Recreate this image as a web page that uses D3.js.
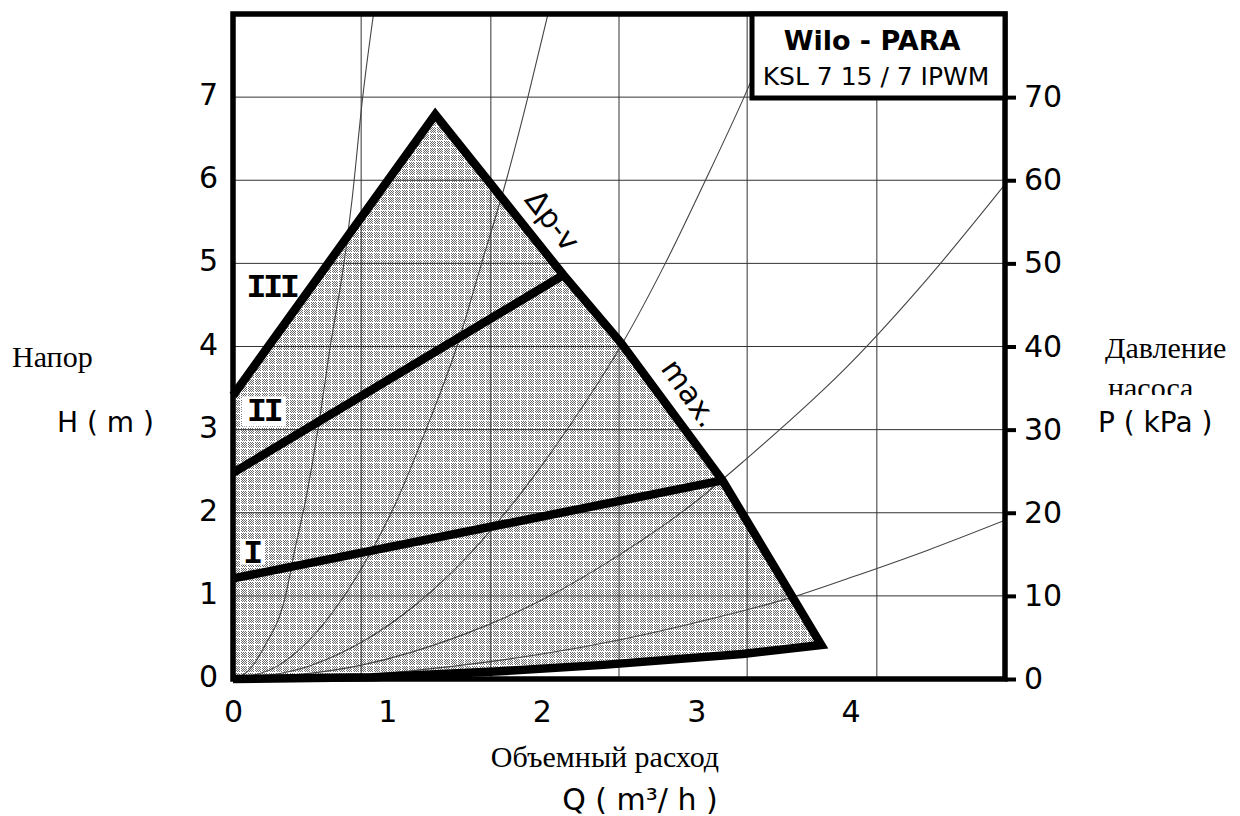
<!DOCTYPE html>
<html>
<head>
<meta charset="utf-8">
<script src="https://cdn.jsdelivr.net/npm/d3@7"></script>
<style>
body{margin:0;background:#fff;}
svg{display:block;}
.cs{font-family:"DejaVu Sans",sans-serif;fill:#000;}
.rus{font-family:"Liberation Serif",serif;fill:#000;}
.roman{font-family:"Liberation Mono",monospace;font-weight:bold;fill:#000;}
</style>
</head>
<body>
<svg id="svg1" width="1240" height="816"></svg>
<script>
// axis values
let qTicks = [0, 1, 2, 3, 4];
let hTicks = [0, 1, 2, 3, 4, 5, 6, 7];
let pTicks = [0, 10, 20, 30, 40, 50, 60, 70];
let gridQ = [0.83, 1.67, 2.5, 3.33, 4.17];
let gridH = [1, 2, 3, 4, 5, 6, 7];

// working field of the pump, [Q, H]
let fieldTop = [[0, 3.41], [1.31, 6.79], [2.14, 4.86], [2.51, 4.05], [3.17, 2.39], [3.81, 0.41]];
let fieldBottom = [[3.81, 0.41], [3.3, 0.3], [2.4, 0.17], [1.7, 0.09], [0.9, 0.02], [0, 0]];
let speedI = [[0, 1.21], [3.17, 2.39]];
let speedII = [[0, 2.48], [2.14, 4.86]];

// system curves (thin lines from the origin)
let curveA = [[0,0],[0.1,0.1],[0.2,0.38],[0.34,1.0],[0.4,1.55],[0.47,2.15],[0.55,3.0],[0.63,4.0],[0.73,5.15],[0.77,5.75],[0.84,7.0],[0.91,8.0]];
let curveB = [[0,0],[0.3,0.17],[0.5,0.48],[0.86,1.42],[1.05,2.1],[1.25,3.0],[1.45,4.0],[1.61,5.0],[1.77,6.0],[1.91,7.0],[2.04,8.0]];
let curveC = [[0,0],[0.5,0.16],[0.84,0.45],[1.2,0.92],[1.5,1.44],[1.94,2.42],[2.2,3.1],[2.51,4.0],[2.8,5.0],[3.06,6.0],[3.31,7.0],[3.54,8.0]];
let curveD = [[0,0],[0.84,0.17],[1.5,0.54],[2.0,0.95],[2.5,1.49],[3.0,2.14],[3.32,2.64],[4.0,3.8],[4.5,4.82],[5.0,5.95]];
let curveE = [[0,0],[0.84,0.05],[1.5,0.17],[2.0,0.3],[2.5,0.47],[3.0,0.68],[3.65,1.0],[4.0,1.22],[4.5,1.55],[5.0,1.91]];
let systemCurves = [curveA, curveB, curveC, curveD, curveE];

function drawChart(){
  let svg = d3.select("#svg1");
  let margin = {top: 14, right: 235, bottom: 137, left: 233};
  let width = 1240 - margin.left - margin.right;
  let height = 816 - margin.top - margin.bottom;

  let x = d3.scaleLinear().domain([0, 5]).range([0, width]);
  let y = d3.scaleLinear().domain([0, 8]).range([height, 0]);
  let yP = d3.scaleLinear().domain([0, 80]).range([height, 0]);

  svg.append("rect").attr("width", 1240).attr("height", 816).attr("fill", "#fff");

  // dotted raster used for the field
  let defs = svg.append("defs");
  let pat = defs.append("pattern").attr("id", "dots")
      .attr("patternUnits", "userSpaceOnUse").attr("width", 7).attr("height", 7);
  pat.append("rect").attr("width", 7).attr("height", 7).attr("fill", "#fff");
  for (let i = 1; i < 7; i++) {
    for (let j = 1; j < 7; j++) {
      if ((i + j) % 2 == 0) {
        pat.append("rect").attr("x", i).attr("y", j).attr("width", 1).attr("height", 1)
           .attr("fill", "#6a6a6a").attr("shape-rendering", "crispEdges");
      }
    }
  }
  defs.append("clipPath").attr("id", "plotClip")
      .append("rect").attr("width", width).attr("height", height);
  defs.append("clipPath").attr("id", "cutText")
      .append("rect").attr("x", 1090).attr("y", 370).attr("width", 150).attr("height", 25);

  let g = svg.append("g").attr("transform", `translate(${margin.left},${margin.top})`);

  let line = d3.line().x(d => x(d[0])).y(d => y(d[1]));

  // shaded field
  g.append("path")
    .attr("d", line(fieldTop.concat(fieldBottom)) + "Z")
    .attr("fill", "url(#dots)");

  // grid
  g.append("g").selectAll("line").data(gridQ).enter().append("line")
    .attr("x1", d => x(d)).attr("x2", d => x(d))
    .attr("y1", 0).attr("y2", height)
    .attr("stroke", "#333").attr("stroke-width", 1);
  g.append("g").selectAll("line").data(gridH).enter().append("line")
    .attr("x1", 0).attr("x2", width)
    .attr("y1", d => y(d)).attr("y2", d => y(d))
    .attr("stroke", "#333").attr("stroke-width", 1);

  // system curves
  let smooth = d3.line().x(d => x(d[0])).y(d => y(d[1])).curve(d3.curveMonotoneX);
  g.append("g").attr("clip-path", "url(#plotClip)")
    .selectAll("path").data(systemCurves).enter().append("path")
    .attr("d", d => smooth(d))
    .attr("fill", "none").attr("stroke", "#444").attr("stroke-width", 1.1);

  // thick outline of the field and speed lines
  g.append("path")
    .attr("d", line(fieldTop.concat(fieldBottom.slice(1))))
    .attr("fill", "none").attr("stroke", "#000").attr("stroke-width", 8.5)
    .attr("stroke-linejoin", "miter").attr("stroke-miterlimit", 10);
  [speedI, speedII].forEach(s => {
    g.append("path").attr("d", line(s))
      .attr("fill", "none").attr("stroke", "#000").attr("stroke-width", 8.5);
  });

  // speed labels
  g.append("text").attr("class", "roman")
    .attr("x", x(0.25)).attr("y", y(4.6))
    .attr("text-anchor", "middle")
    .style("font-size", "33px").style("letter-spacing", "-3px")
    .text("III");
  g.append("rect").attr("x", x(0.2) - 22).attr("y", y(3.22) - 15)
    .attr("width", 44).attr("height", 30).attr("fill", "#fff");
  g.append("text").attr("class", "roman")
    .attr("x", x(0.2)).attr("y", y(3.1))
    .attr("text-anchor", "middle")
    .style("font-size", "33px").style("letter-spacing", "-3px")
    .text("II");
  g.append("rect").attr("x", x(0.13) - 12).attr("y", y(1.52) - 13)
    .attr("width", 24).attr("height", 25).attr("fill", "#fff");
  g.append("text").attr("class", "roman")
    .attr("x", x(0.13)).attr("y", y(1.4))
    .attr("text-anchor", "middle")
    .style("font-size", "33px")
    .text("I");

  // curve names along the edge
  g.append("text").attr("class", "cs")
    .attr("transform", `translate(${x(2.07)},${y(5.52)}) rotate(52)`)
    .attr("text-anchor", "middle").attr("dominant-baseline", "central")
    .style("font-size", "30px").text("\u0394p-v");
  g.append("text").attr("class", "cs")
    .attr("transform", `translate(${x(2.96)},${y(3.44)}) rotate(55)`)
    .attr("text-anchor", "middle").attr("dominant-baseline", "central")
    .style("font-size", "30px").text("max.");

  // title box
  svg.append("rect").attr("x", 752).attr("y", 14).attr("width", 253).attr("height", 84)
    .attr("fill", "#fff").attr("stroke", "#000").attr("stroke-width", 5);
  svg.append("text").attr("class", "cs").attr("x", 872).attr("y", 50)
    .attr("text-anchor", "middle").style("font-size", "27px").style("font-weight", "bold")
    .text("Wilo - PARA");
  svg.append("text").attr("class", "cs").attr("x", 876).attr("y", 85)
    .attr("text-anchor", "middle").style("font-size", "25px").text("KSL 7 15 / 7 IPWM");

  // frame
  g.append("rect").attr("width", width).attr("height", height)
    .attr("fill", "none").attr("stroke", "#000").attr("stroke-width", 5.5);

  // axes
  let left = g.append("g")
    .call(d3.axisLeft(y).tickValues(hTicks).tickSize(0).tickPadding(15));
  left.select(".domain").remove();
  left.selectAll(".tick text").attr("class", "cs").attr("dy", "0.25em").style("font-size", "30px");

  let bottom = g.append("g").attr("transform", `translate(0,${height})`)
    .call(d3.axisBottom(x).tickValues(qTicks).tickFormat(d3.format("d")).tickSize(0).tickPadding(22));
  bottom.select(".domain").remove();
  bottom.selectAll(".tick text").attr("class", "cs").style("font-size", "30px");

  let right = g.append("g").attr("transform", `translate(${width},0)`)
    .call(d3.axisRight(yP).tickValues(pTicks).tickSize(11).tickPadding(8));
  right.select(".domain").remove();
  right.selectAll(".tick line").attr("stroke", "#000").attr("stroke-width", 4);
  right.selectAll(".tick text").attr("class", "cs").style("font-size", "30px");

  // axis titles
  svg.append("text").attr("class", "rus").attr("x", 12).attr("y", 367)
    .style("font-size", "30px").text("Напор");
  svg.append("text").attr("class", "cs").attr("x", 57).attr("y", 432)
    .style("font-size", "28px").text("H ( m )");
  svg.append("text").attr("class", "rus").attr("x", 1105).attr("y", 358)
    .style("font-size", "30px").text("Давление");
  svg.append("text").attr("class", "rus").attr("x", 1108).attr("y", 398)
    .attr("clip-path", "url(#cutText)")
    .style("font-size", "30px").text("насоса");
  svg.append("text").attr("class", "cs").attr("x", 1098).attr("y", 432)
    .style("font-size", "28px").text("P ( kPa )");
  svg.append("text").attr("class", "rus").attr("x", 605).attr("y", 767)
    .attr("text-anchor", "middle").style("font-size", "30px").text("Объемный расход");
  svg.append("text").attr("class", "cs").attr("x", 640).attr("y", 810)
    .attr("text-anchor", "middle").style("font-size", "30px").text("Q ( m\u00b3/ h )");
}

drawChart();
</script>
</body>
</html>
